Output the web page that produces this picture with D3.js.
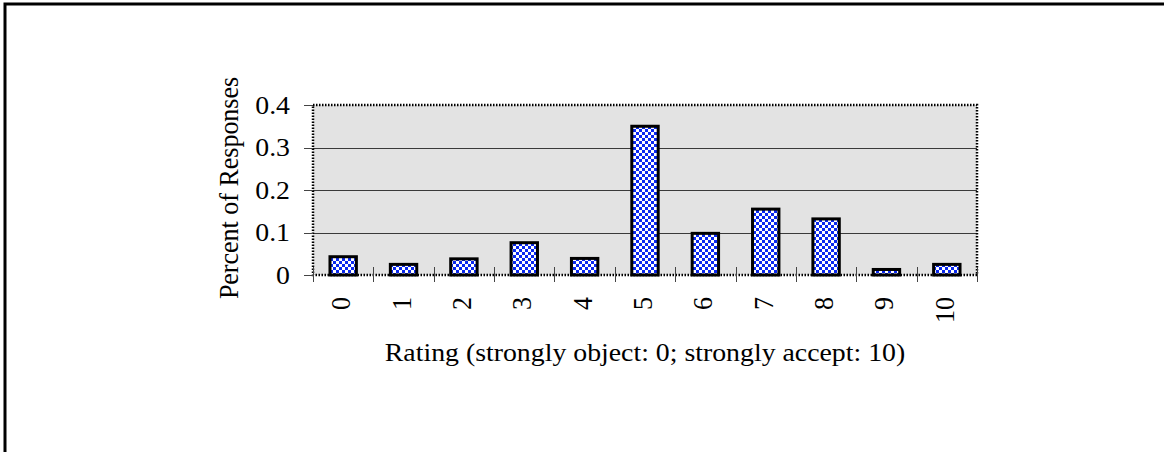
<!DOCTYPE html>
<html><head><meta charset="utf-8">
<script src="https://cdn.jsdelivr.net/npm/d3@7"></script>
<style>body{margin:0;background:#fff;}svg{display:block;}</style>
</head><body>
<svg id="chart" width="1164" height="452"></svg>
<script>
const categories = ["0","1","2","3","4","5","6","7","8","9","10"];
const values = [0.043, 0.025, 0.038, 0.076, 0.039, 0.350, 0.098, 0.155, 0.132, 0.013, 0.025];
const yTicks = [0, 0.1, 0.2, 0.3, 0.4];
const yTickLabels = ["0", "0.1", "0.2", "0.3", "0.4"];
const xTitle = "Rating (strongly object: 0; strongly accept: 10)";
const yTitle = "Percent of Responses";

(function(){
const svg = d3.select("#chart");
const font = "'Liberation Serif','Times New Roman',serif";
const fs = 26, sx = 1.07;

// outer border
svg.append("rect").attr("x",5).attr("y",4).attr("width",1400).attr("height",700)
  .attr("fill","none").attr("stroke","#000").attr("stroke-width",3);

const pL = 313, pR = 977, pT = 105, pB = 275;
const pi = 0.5626;
const x = d3.scaleBand().domain(categories).range([pL,pR]).paddingInner(pi).paddingOuter(pi/2);
const y = d3.scaleLinear().domain([0,0.4]).range([pB, pT]);
const step = x.step();

const defs = svg.append("defs");
const pat = defs.append("pattern").attr("id","chk").attr("patternUnits","userSpaceOnUse")
  .attr("width",6).attr("height",6);
pat.append("rect").attr("width",6).attr("height",6).attr("fill","#fff");
pat.append("rect").attr("width",3).attr("height",3).attr("fill","#0a28f0");
pat.append("rect").attr("x",3).attr("y",3).attr("width",3).attr("height",3).attr("fill","#0a28f0");

// plot bg
svg.append("rect").attr("x",pL).attr("y",pT).attr("width",pR-pL).attr("height",pB-pT)
  .attr("fill","#e3e3e3");

// gridlines
svg.append("g").selectAll("line").data(yTicks.filter(d=>d>0 && d<0.4)).join("line")
  .attr("x1",pL).attr("x2",pR).attr("y1",d=>Math.round(y(d))+0.5).attr("y2",d=>Math.round(y(d))+0.5)
  .attr("stroke","#3a3a3a").attr("stroke-width",1);

// bars
svg.append("g").selectAll("rect").data(values).join("rect")
  .attr("x",(d,i)=>x(categories[i])).attr("width",x.bandwidth())
  .attr("y",d=>y(d)).attr("height",d=>y(0)-y(d))
  .attr("fill","url(#chk)").attr("stroke","#000").attr("stroke-width",3);

// plot border dotted
svg.append("rect").attr("x",pL).attr("y",pT).attr("width",pR-pL).attr("height",pB-pT)
  .attr("fill","none").attr("stroke","#000").attr("stroke-width",2.5).attr("stroke-dasharray","1.5,1.5");

// y axis ticks
svg.append("g").selectAll("line").data(yTicks).join("line")
  .attr("x1",pL-9).attr("x2",pL).attr("y1",d=>Math.round(y(d))+0.5).attr("y2",d=>Math.round(y(d))+0.5)
  .attr("stroke","#444").attr("stroke-width",1);

// x axis ticks at category boundaries
const bounds = d3.range(categories.length+1).map(i=>pL + i*step);
svg.append("g").selectAll("line").data(bounds).join("line")
  .attr("x1",d=>Math.round(d)+0.5).attr("x2",d=>Math.round(d)+0.5).attr("y1",pB-8).attr("y2",pB+7)
  .attr("stroke","#444").attr("stroke-width",1);

// y tick labels
svg.append("g").selectAll("text").data(yTicks).join("text")
  .attr("transform",d=>`translate(290,${y(d)}) scale(${sx},1)`)
  .attr("dy","0.34em").attr("text-anchor","end")
  .attr("font-family",font).attr("font-size",fs).attr("fill","#000")
  .text((d,i)=>yTickLabels[i]);

// x tick labels rotated
svg.append("g").selectAll("text").data(categories).join("text")
  .attr("transform",d=>`translate(${x(d)+x.bandwidth()/2+7},297) scale(${sx},1) rotate(-90)`)
  .attr("text-anchor","end")
  .attr("font-family",font).attr("font-size",fs).attr("fill","#000")
  .text(d=>d);

// x title
svg.append("text").attr("transform",`translate(${(pL+pR)/2},361) scale(${sx},1)`)
  .attr("text-anchor","middle").attr("font-family",font).attr("font-size",fs).attr("fill","#000")
  .text(xTitle);

// y title
svg.append("text").attr("transform",`translate(238,188) scale(${sx},1) rotate(-90)`)
  .attr("text-anchor","middle").attr("font-family",font).attr("font-size",fs).attr("fill","#000")
  .text(yTitle);
})();
</script>
</body></html>
